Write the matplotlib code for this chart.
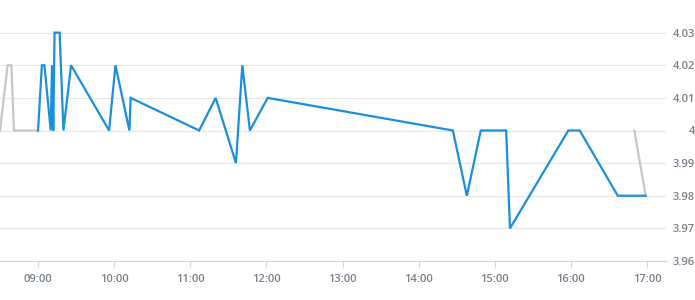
import pandas as pd
import matplotlib
matplotlib.use('Agg')
import matplotlib.pyplot as plt
import matplotlib.dates as mdates

day = '2024-01-02 '

# pre-market (grey)
pre_times = ['08:30', '08:36', '08:39', '08:41', '09:00']
pre_prices = [4.00, 4.02, 4.02, 4.00, 4.00]

# regular session (blue)
times = ['09:00', '09:03', '09:05', '09:10', '09:11', '09:12', '09:13', '09:17',
         '09:20', '09:26', '09:56', '10:01', '10:12', '10:13', '11:07', '11:20',
         '11:36', '11:41', '11:47', '12:01', '14:27', '14:38', '14:49', '15:09',
         '15:12', '15:58', '16:07', '16:37', '16:59']
prices = [4.00, 4.02, 4.02, 4.00, 4.02, 4.00, 4.03, 4.03,
          4.00, 4.02, 4.00, 4.02, 4.00, 4.01, 4.00, 4.01,
          3.99, 4.02, 4.00, 4.01, 4.00, 3.98, 4.00, 4.00,
          3.97, 4.00, 4.00, 3.98, 3.98]

# after-hours (grey)
post_times = ['16:50', '16:59']
post_prices = [4.00, 3.98]

y_ticks = [3.96, 3.97, 3.98, 3.99, 4.00, 4.01, 4.02, 4.03]
y_labels = ['3.96', '3.97', '3.98', '3.99', '4', '4.01', '4.02', '4.03']

to_dt = lambda ts: pd.to_datetime([day + t for t in ts])

plt.rcParams['font.family'] = ['Open Sans', 'DejaVu Sans']

fig = plt.figure(figsize=(6.95, 3.0), dpi=100)
ax = fig.add_axes([0, 0.13, 666 / 695, 0.87])

grey = '#c3c8cd'
blue = '#1a8fdb'
ax.plot(to_dt(pre_times), pre_prices, color=grey, lw=1.6, solid_joinstyle='miter')
ax.plot(to_dt(post_times), post_prices, color=grey, lw=1.6)
ax.plot(to_dt(times), prices, color=blue, lw=1.6, solid_joinstyle='miter')

ax.set_xlim(pd.Timestamp(day + '08:30'), pd.Timestamp(day + '17:15'))
ax.set_ylim(3.96, 4.04)

ax.xaxis.set_major_locator(mdates.HourLocator(byhour=range(9, 18)))
ax.xaxis.set_major_formatter(mdates.DateFormatter('%H:%M'))

ax.yaxis.tick_right()
ax.set_yticks(y_ticks)
ax.set_yticklabels(y_labels)
for lab in ax.get_yticklabels() + ax.get_xticklabels():
    lab.set_fontweight('semibold')
for lab in ax.get_yticklabels():
    lab.set_horizontalalignment('right')

ax.tick_params(axis='y', length=0, pad=21, labelsize=8, labelcolor='#788089')
ax.tick_params(axis='x', length=4, width=0.8, color='#ccd6eb', pad=5,
               labelsize=8, labelcolor='#788089')

ax.grid(axis='y', color='#e6e6e6', lw=0.8)
ax.set_axisbelow(True)
for side in ['top', 'left', 'right']:
    ax.spines[side].set_visible(False)
ax.spines['bottom'].set_color('#ccd6eb')
ax.spines['bottom'].set_linewidth(0.8)

plt.savefig('out.png', dpi=100)
